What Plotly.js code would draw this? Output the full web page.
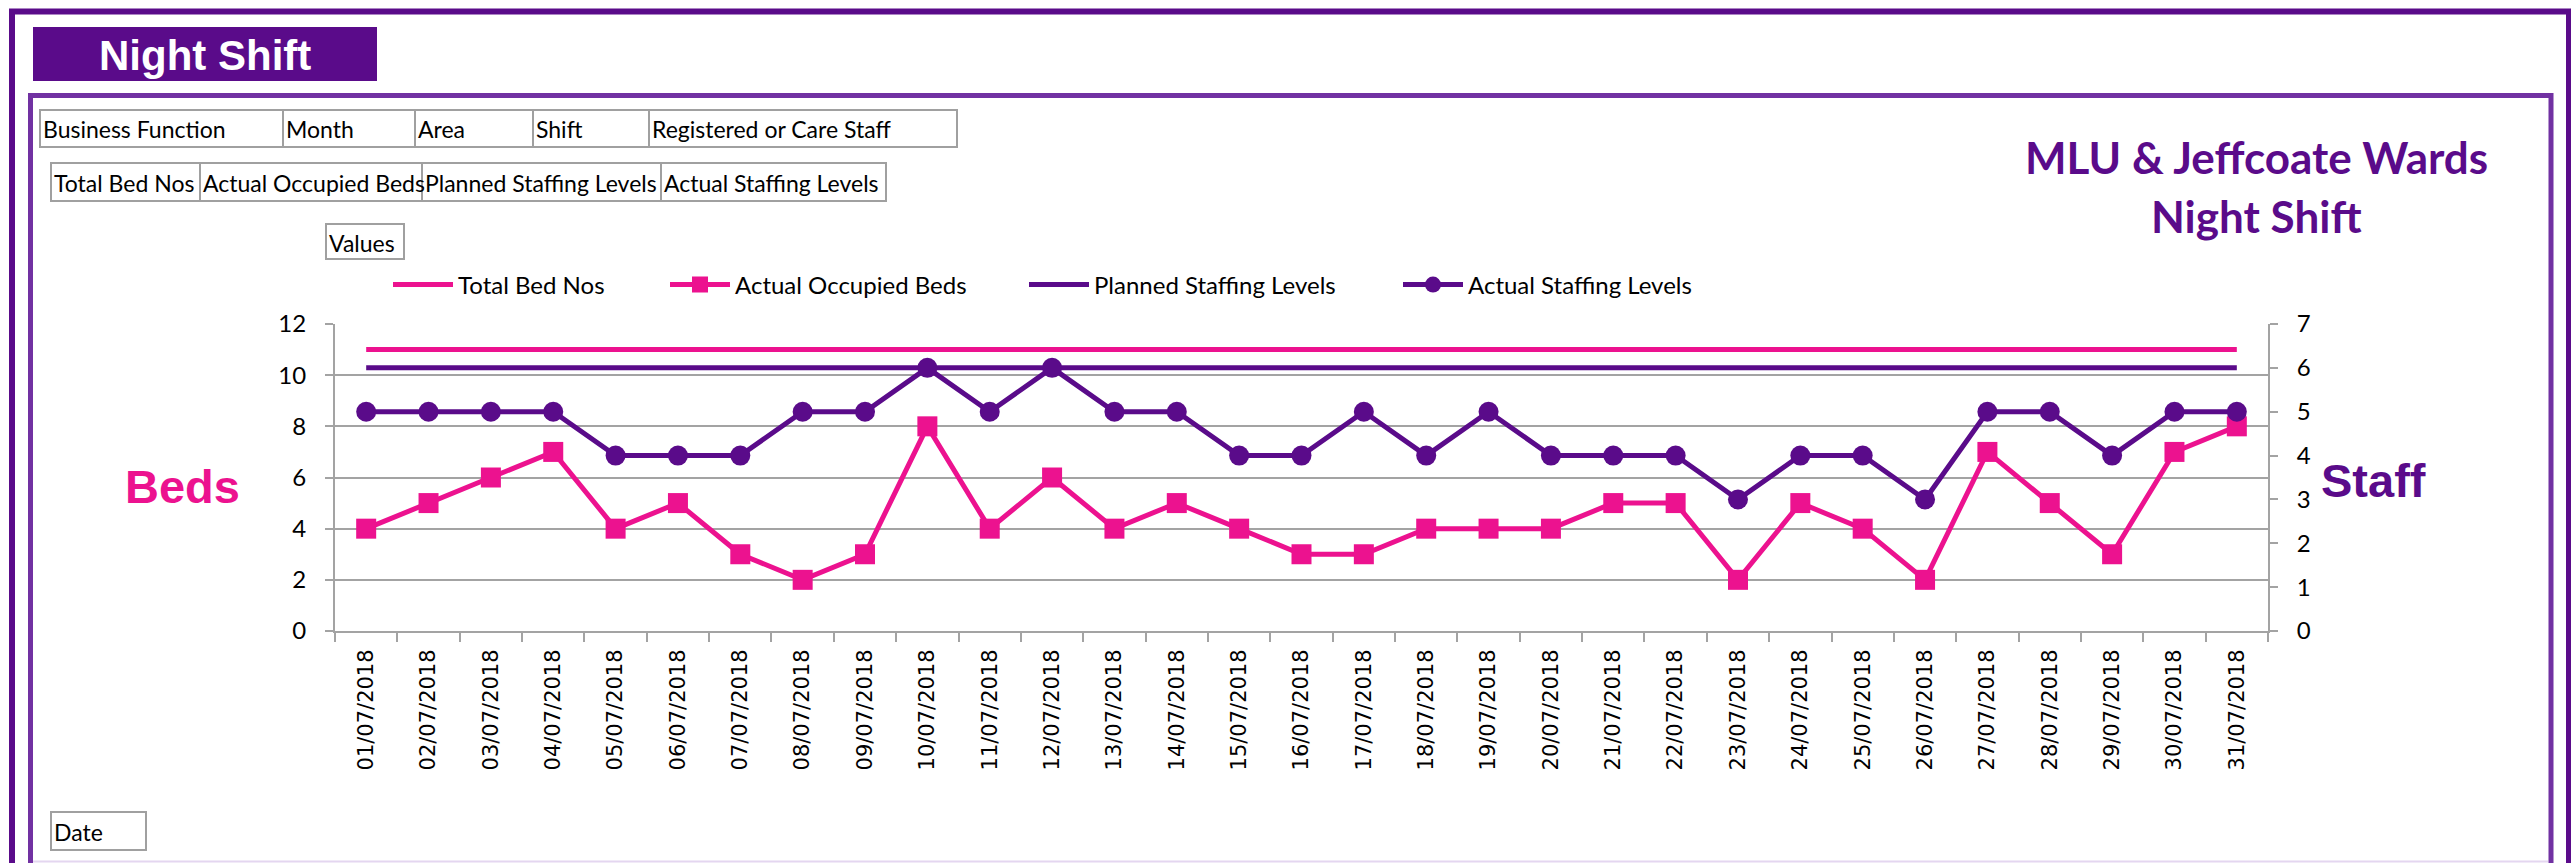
<!DOCTYPE html>
<html>
<head>
<meta charset="utf-8">
<script src="https://cdn.plot.ly/plotly-3.0.1.min.js"></script>
<style>
  html, body { margin: 0; padding: 0; background: #ffffff; }
  #chart { width: 2571px; height: 863px; }
</style>
</head>
<body>
<div id="chart"></div>
<script>
// ---------------- data ----------------
const dates = ['01/07/2018','02/07/2018','03/07/2018','04/07/2018','05/07/2018','06/07/2018','07/07/2018',
  '08/07/2018','09/07/2018','10/07/2018','11/07/2018','12/07/2018','13/07/2018','14/07/2018','15/07/2018',
  '16/07/2018','17/07/2018','18/07/2018','19/07/2018','20/07/2018','21/07/2018','22/07/2018','23/07/2018',
  '24/07/2018','25/07/2018','26/07/2018','27/07/2018','28/07/2018','29/07/2018','30/07/2018','31/07/2018'];
const totalBedNos = [11,11,11,11,11,11,11,11,11,11,11,11,11,11,11,11,11,11,11,11,11,11,11,11,11,11,11,11,11,11,11];
const actualOccupiedBeds = [4,5,6,7,4,5,3,2,3,8,4,6,4,5,4,3,3,4,4,4,5,5,2,5,4,2,7,5,3,7,8];
const plannedStaffing = [6,6,6,6,6,6,6,6,6,6,6,6,6,6,6,6,6,6,6,6,6,6,6,6,6,6,6,6,6,6,6];
const actualStaffing = [5,5,5,5,4,4,4,5,5,6,5,6,5,5,4,4,5,4,5,4,4,4,3,4,4,3,5,5,4,5,5];
const seriesNames = ['Total Bed Nos','Actual Occupied Beds','Planned Staffing Levels','Actual Staffing Levels'];
const bedsTicks = [0,2,4,6,8,10,12];
const staffTicks = [0,1,2,3,4,5,6,7];
const fieldRow1 = ['Business Function','Month','Area','Shift','Registered or Care Staff'];
const fieldRow2 = ['Total Bed Nos','Actual Occupied Beds','Planned Staffing Levels','Actual Staffing Levels'];
const titleLines = ['MLU & Jeffcoate Wards','Night Shift'];

// ---------------- geometry helpers (pixel -> paper) ----------------
const W = 2571, H = 863;
const PL = 335, PR = 2268, PT = 324, PB = 631;
const PW = PR - PL, PH = PB - PT;
const X = px => (px - PL) / PW;
const Y = py => (PB - py) / PH;

const PINK = '#EC128F';
const PURPLE = '#5A0B8A';
const FRAME2 = '#7131A2';
const GRID = '#A3A3A3';
const BOXLINE = '#A0A0A0';
const TXT = 'Lato, "Open Sans", sans-serif';

// ---------------- traces ----------------
const traces = [
  {x: dates, y: totalBedNos, name: seriesNames[0], type: 'scatter', mode: 'lines',
   line: {color: PINK, width: 5}, yaxis: 'y', legend: 'legend', hoverinfo: 'skip'},
  {x: dates, y: actualOccupiedBeds, name: seriesNames[1], type: 'scatter', mode: 'lines+markers',
   line: {color: PINK, width: 5}, marker: {symbol: 'square', size: 20, color: PINK},
   yaxis: 'y', legend: 'legend2', hoverinfo: 'skip'},
  {x: dates, y: plannedStaffing, name: seriesNames[2], type: 'scatter', mode: 'lines',
   line: {color: PURPLE, width: 5}, yaxis: 'y2', legend: 'legend3', hoverinfo: 'skip'},
  {x: dates, y: actualStaffing, name: seriesNames[3], type: 'scatter', mode: 'lines+markers',
   line: {color: PURPLE, width: 5}, marker: {symbol: 'circle', size: 20, color: PURPLE},
   yaxis: 'y2', legend: 'legend4', hoverinfo: 'skip'}
];

// ---------------- shapes ----------------
const shapes = [];
// outer dark frame
shapes.push({type: 'rect', xref: 'paper', yref: 'paper', x0: X(12), x1: X(2569), y0: Y(11.5), y1: Y(900),
  line: {color: PURPLE, width: 6}, fillcolor: 'rgba(0,0,0,0)'});
// inner frame
shapes.push({type: 'rect', xref: 'paper', yref: 'paper', x0: X(30.5), x1: X(2551), y0: Y(95.5), y1: Y(900),
  line: {color: FRAME2, width: 5}, fillcolor: 'rgba(0,0,0,0)'});
shapes.push({type: 'line', xref: 'paper', yref: 'paper', x0: X(33), x1: X(2548), y0: Y(861.5), y1: Y(861.5),
  line: {color: '#E4D6F0', width: 2}});
// Night Shift banner
shapes.push({type: 'rect', xref: 'paper', yref: 'paper', x0: X(33), x1: X(377), y0: Y(27), y1: Y(81),
  line: {width: 0}, fillcolor: PURPLE});

// field boxes
const row1Edges = [40,283,415,533,649,957];
const row2Edges = [51,200,422,661,886];
const annotations = [];
function fieldBox(x0, x1, y0, y1, label) {
  shapes.push({type: 'rect', xref: 'paper', yref: 'paper', x0: X(x0), x1: X(x1), y0: Y(y0), y1: Y(y1),
    line: {color: BOXLINE, width: 2}, fillcolor: '#ffffff'});
  annotations.push({xref: 'paper', yref: 'paper', x: X(x0 + 1), y: Y((y0 + y1) / 2 + 1), xanchor: 'left', yanchor: 'middle',
    text: label, showarrow: false, font: {family: TXT, size: 23, color: '#000000'}});
}
fieldRow1.forEach((t, i) => fieldBox(row1Edges[i], row1Edges[i + 1], 110, 147, t));
fieldRow2.forEach((t, i) => fieldBox(row2Edges[i], row2Edges[i + 1], 163, 201, t));
fieldBox(326, 404, 224, 259, 'Values');
fieldBox(51, 146, 812, 850, 'Date');

// banner + titles + axis labels
annotations.push({xref: 'paper', yref: 'paper', x: X(205), y: Y(55), xanchor: 'center', yanchor: 'middle',
  text: '<b>Night Shift</b>', showarrow: false,
  font: {family: '"Liberation Sans", Arial, sans-serif', size: 42, color: '#ffffff'}});
annotations.push({xref: 'paper', yref: 'paper', x: X(2256), y: Y(157), xanchor: 'center', yanchor: 'middle',
  text: '<b>' + titleLines[0].replace('&', '&amp;') + '</b>', showarrow: false,
  font: {family: TXT, size: 44, color: PURPLE}});
annotations.push({xref: 'paper', yref: 'paper', x: X(2256), y: Y(216), xanchor: 'center', yanchor: 'middle',
  text: '<b>' + titleLines[1] + '</b>', showarrow: false,
  font: {family: TXT, size: 44, color: PURPLE}});
annotations.push({xref: 'paper', yref: 'paper', x: X(182), y: Y(486), xanchor: 'center', yanchor: 'middle',
  text: '<b>Beds</b>', showarrow: false,
  font: {family: '"Liberation Sans", Arial, sans-serif', size: 47, color: PINK}});
annotations.push({xref: 'paper', yref: 'paper', x: X(2373), y: Y(480), xanchor: 'center', yanchor: 'middle',
  text: '<b>Staff</b>', showarrow: false,
  font: {family: '"Liberation Sans", Arial, sans-serif', size: 47, color: PURPLE}});

// ---------------- legends ----------------
function legendAt(px) {
  return {orientation: 'h', x: X(px), y: Y(285), xanchor: 'left', yanchor: 'middle',
    xref: 'paper', yref: 'paper', bgcolor: 'rgba(0,0,0,0)', borderwidth: 0, itemwidth: 60,
    font: {family: TXT, size: 24, color: '#000000'}};
}

const layout = {
  width: W, height: H,
  margin: {l: PL, r: W - PR, t: PT, b: H - PB, pad: 0},
  paper_bgcolor: '#ffffff', plot_bgcolor: '#ffffff',
  showlegend: true,
  legend: legendAt(388),
  legend2: legendAt(665),
  legend3: legendAt(1024),
  legend4: legendAt(1398),
  xaxis: {type: 'category', categoryorder: 'array', categoryarray: dates, range: [-0.5, dates.length - 0.5],
    tickson: 'boundaries', ticks: 'outside', ticklen: 9, tickwidth: 2, tickcolor: GRID,
    showline: true, linecolor: GRID, linewidth: 2, showgrid: false, zeroline: false,
    tickangle: -90, tickfont: {family: '"DejaVu Sans", sans-serif', size: 21, color: '#000000'},
    ticklabelstandoff: 8, fixedrange: true},
  yaxis: {range: [0, 12], tickvals: bedsTicks, ticktext: bedsTicks.map(String),
    showgrid: true, gridcolor: GRID, gridwidth: 2, zeroline: false,
    showline: true, linecolor: GRID, linewidth: 2, ticks: 'outside', ticklen: 8, tickwidth: 2, tickcolor: GRID,
    tickfont: {family: TXT, size: 24, color: '#000000'}, ticklabelstandoff: 14, fixedrange: true},
  yaxis2: {range: [0, 7], tickvals: staffTicks, ticktext: staffTicks.map(String), overlaying: 'y', side: 'right',
    showgrid: false, zeroline: false,
    showline: true, linecolor: GRID, linewidth: 2, ticks: 'outside', ticklen: 8, tickwidth: 2, tickcolor: GRID,
    tickfont: {family: TXT, size: 24, color: '#000000'}, ticklabelstandoff: 14, fixedrange: true},
  shapes: shapes,
  annotations: annotations,
  hovermode: false
};

Plotly.newPlot('chart', traces, layout, {displayModeBar: false, staticPlot: true});
</script>
</body>
</html>
